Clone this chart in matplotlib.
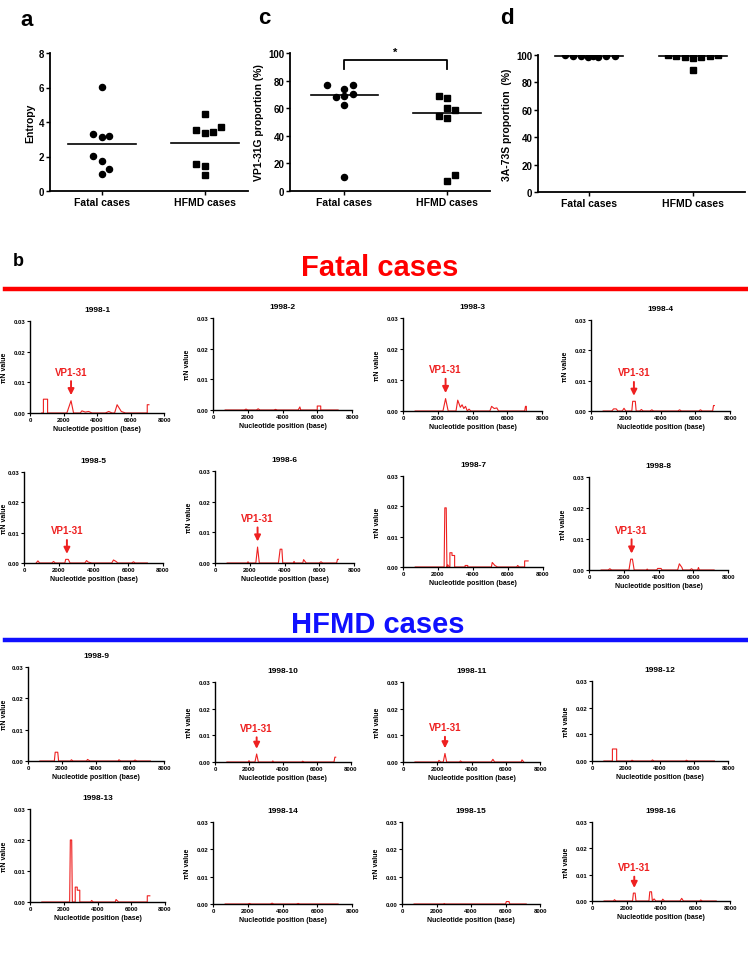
import matplotlib
matplotlib.use('Agg')
import matplotlib.pyplot as plt

plt.rcParams['font.family'] = ['Liberation Sans', 'DejaVu Sans']
plt.rcParams['font.weight'] = 'bold'
plt.rcParams['axes.labelweight'] = 'bold'

# ---- data: panels a, c, d (dot plots) ----
cats = ['Fatal cases', 'HFMD cases']

entropy_fatal = [6.05, 3.3, 3.15, 3.2, 2.05, 1.75, 1.25, 1.0]
entropy_hfmd = [4.45, 3.55, 3.35, 3.4, 3.7, 1.55, 1.45, 0.95]
entropy_lines = [2.7, 2.8]

vp1_fatal = [76.5, 74, 77, 68, 68.5, 70.5, 62, 10.5]
vp1_hfmd = [69.2, 67.7, 60, 58.7, 54.1, 52.7, 11.4, 7.3]
vp1_lines = [69.5, 56.5]

a3_fatal = [99.8, 99.6, 99.3, 98.8, 99.5, 98.3, 99.5, 99.6]
a3_hfmd = [99.8, 99.6, 98.5, 97.8, 98.5, 99.5, 99.7, 89.0]
a3_lines = [99.6, 99.2]

# ---- data: panel b, piN along the genome (position, value) ----
case_names = ['1998-%d' % i for i in range(1, 17)]

trace_01 = [(700, 0), (800, 0), (800, 0.0045), (1050, 0.0045), (1050, 0), (2200, 0), (2450, 0.004),
            (2600, 0), (3000, 0), (3100, 0.0007), (3300, 0.0003), (3500, 0.0005), (3700, 0), (4500, 0),
            (4700, 0.0005), (4900, 0), (5050, 0), (5200, 0.0027), (5450, 0.0005), (5700, 0), (7000, 0),
            (7000, 0.0027), (7100, 0.0027)]
trace_02 = [(700, 0), (1800, 0), (1900, 0.0003), (2000, 0), (2500, 0), (2600, 0.0004), (2700, 0),
            (3500, 0), (3600, 0.0002), (3700, 0), (4900, 0), (5000, 0.001), (5050, 0), (6000, 0),
            (6000, 0.0013), (6200, 0.0013), (6200, 0), (7200, 0)]
trace_03 = [(700, 0), (2300, 0), (2450, 0.004), (2600, 0), (3050, 0), (3150, 0.0035), (3300, 0.0012),
            (3400, 0.002), (3500, 0.0008), (3600, 0.0015), (3700, 0), (3800, 0.0006), (3900, 0),
            (5000, 0), (5100, 0.0015), (5250, 0.0008), (5400, 0.001), (5500, 0), (7000, 0),
            (7050, 0.0015), (7100, 0.0015), (7100, 0)]
trace_04 = [(700, 0), (1200, 0), (1300, 0.0007), (1450, 0.0007), (1550, 0), (1800, 0), (1900, 0.0009),
            (2000, 0), (2350, 0), (2400, 0.0032), (2550, 0.0032), (2600, 0), (2800, 0), (2900, 0.0005),
            (3000, 0), (3400, 0), (3500, 0.0004), (3600, 0), (5000, 0), (5100, 0.0004), (5200, 0),
            (6200, 0), (6300, 0.0004), (6400, 0), (7000, 0), (7050, 0.0018), (7100, 0.0018)]
trace_05 = [(700, 0), (800, 0.0007), (900, 0), (1600, 0), (1700, 0.0005), (1800, 0), (2350, 0),
            (2400, 0.0012), (2550, 0.0012), (2650, 0), (3500, 0), (3600, 0.0008), (3700, 0.0003),
            (3900, 0), (5050, 0), (5150, 0.001), (5300, 0.0005), (5400, 0), (6200, 0), (6300, 0.0004),
            (6400, 0), (7100, 0)]
trace_06 = [(700, 0), (1850, 0), (1900, 0.0004), (1950, 0), (2350, 0), (2450, 0.0052), (2550, 0),
            (3650, 0), (3750, 0.0045), (3850, 0.0045), (3900, 0), (4500, 0), (4550, 0.0005), (4600, 0),
            (5050, 0), (5100, 0.0011), (5250, 0), (6000, 0), (6100, 0.0004), (6200, 0), (7000, 0),
            (7050, 0.0012), (7100, 0.0012)]
trace_07 = [(700, 0), (2350, 0), (2390, 0.0195), (2470, 0.0195), (2510, 0), (2560, 0.0007), (2640, 0),
            (2680, 0), (2680, 0.0047), (2800, 0.0047), (2800, 0.0038), (2950, 0.0038), (2950, 0),
            (3550, 0), (3550, 0.0005), (3700, 0.0005), (3700, 0), (5050, 0), (5100, 0.0015),
            (5250, 0.0005), (5400, 0), (6500, 0), (6550, 0.0005), (6650, 0), (6950, 0), (6950, 0.002),
            (7150, 0.002)]
trace_08 = [(700, 0), (1100, 0), (1200, 0.0004), (1300, 0), (2300, 0), (2400, 0.0035), (2500, 0.0035),
            (2600, 0), (3300, 0), (3350, 0.0003), (3400, 0), (3900, 0), (3950, 0.0005), (4150, 0.0005),
            (4200, 0), (5100, 0), (5200, 0.002), (5350, 0.0008), (5400, 0), (5800, 0), (5900, 0.0004),
            (6000, 0), (6250, 0), (6300, 0.0008), (6350, 0), (7200, 0)]
trace_09 = [(700, 0), (1550, 0), (1600, 0.0028), (1750, 0.0028), (1800, 0), (2500, 0), (2550, 0.0004),
            (2650, 0), (3450, 0), (3500, 0.0005), (3650, 0), (5300, 0), (5350, 0.0004), (5450, 0),
            (6200, 0), (6300, 0.0003), (6400, 0), (7200, 0)]
trace_10 = [(700, 0), (1950, 0), (2000, 0.0005), (2050, 0), (2350, 0), (2450, 0.003), (2550, 0),
            (3350, 0), (3400, 0.0004), (3450, 0), (5100, 0), (5150, 0.0003), (5250, 0), (7000, 0),
            (7050, 0.0018), (7100, 0.0018)]
trace_11 = [(700, 0), (2050, 0), (2100, 0.0006), (2200, 0), (2350, 0), (2450, 0.0032), (2550, 0),
            (3300, 0), (3350, 0.0004), (3450, 0), (5150, 0), (5250, 0.001), (5350, 0), (6900, 0),
            (6950, 0.0008), (7050, 0)]
trace_12 = [(700, 0), (1200, 0), (1200, 0.0045), (1450, 0.0045), (1450, 0), (2300, 0), (2350, 0.0003),
            (2450, 0), (3500, 0), (3550, 0.0004), (3650, 0), (5500, 0), (5550, 0.0003), (5650, 0),
            (7200, 0)]
trace_13 = [(700, 0), (2350, 0), (2390, 0.02), (2470, 0.02), (2510, 0), (2680, 0), (2680, 0.0048),
            (2800, 0.0048), (2800, 0.0038), (2950, 0.0038), (2950, 0), (3600, 0), (3650, 0.0005),
            (3750, 0), (5050, 0), (5100, 0.0008), (5250, 0), (6950, 0), (6950, 0.002), (7100, 0.002)]
trace_14 = [(700, 0), (2000, 0), (2100, 0.0002), (2200, 0), (3300, 0), (3400, 0.0003), (3500, 0),
            (4800, 0), (4900, 0.0002), (5000, 0), (7200, 0)]
trace_15 = [(700, 0), (2400, 0), (2450, 0.0002), (2500, 0), (6000, 0), (6050, 0.0009), (6200, 0.0009),
            (6250, 0), (7200, 0)]
trace_16 = [(700, 0), (1250, 0), (1300, 0.0005), (1400, 0), (2350, 0), (2400, 0.003), (2500, 0.003),
            (2550, 0), (3300, 0), (3350, 0.0035), (3450, 0.0035), (3500, 0), (3600, 0.0008), (3700, 0),
            (4050, 0), (4100, 0.0007), (4200, 0), (5100, 0), (5200, 0.001), (5300, 0), (6250, 0),
            (6300, 0.0004), (6400, 0), (7200, 0)]
traces = [trace_01, trace_02, trace_03, trace_04, trace_05, trace_06, trace_07, trace_08,
          trace_09, trace_10, trace_11, trace_12, trace_13, trace_14, trace_15, trace_16]

# VP1-31 site: (case index, position, peak height)
vp1_marks = [(0, 2450, 0.004), (2, 2450, 0.004), (3, 2470, 0.0032), (4, 2470, 0.0012),
             (5, 2450, 0.0052), (7, 2450, 0.0035), (9, 2450, 0.003), (10, 2450, 0.0032),
             (15, 2450, 0.003)]

# ---- layout ----
W, H = 748, 954
fig = plt.figure(figsize=(W / 100, H / 100), dpi=100)


def px_axes(l, t, r, b):
    return fig.add_axes([l / W, 1 - b / H, (r - l) / W, (b - t) / H])


def prism(ax, lw=1.3):
    for s in ['top', 'right']:
        ax.spines[s].set_visible(False)
    for s in ['left', 'bottom']:
        ax.spines[s].set_linewidth(lw)
    ax.tick_params(direction='out', width=lw * 0.8, length=3, pad=1)


def dot_panel(box, fatal, hfmd, fdx, hdx, lines, ylim, yticks, ylabel, xlim):
    ax = px_axes(*box)
    ax.plot([1 + d for d in fdx], fatal, 'o', color='black', ms=4.4, zorder=3)
    ax.plot([2 + d for d in hdx], hfmd, 's', color='black', ms=4.1, zorder=3)
    ax.plot([0.67, 1.33], [lines[0]] * 2, color='black', lw=1.2)
    ax.plot([1.67, 2.33], [lines[1]] * 2, color='black', lw=1.2)
    ax.set_xlim(*xlim)
    ax.set_ylim(*ylim)
    ax.set_yticks(yticks)
    ax.set_xticks([1, 2])
    ax.set_xticklabels(cats, fontsize=7.5, fontweight='bold')
    ax.tick_params(axis='y', labelsize=7)
    ax.set_ylabel(ylabel, fontsize=7.5, fontweight='bold', labelpad=3)
    ax.spines['left'].set_bounds(ylim[0], ylim[1])
    prism(ax)
    return ax


ax_a = dot_panel((50, 54, 248, 192), entropy_fatal, entropy_hfmd,
                 [0, -0.08, 0, 0.07, -0.08, 0, 0.07, 0], [0, -0.08, 0, 0.08, 0.155, -0.08, 0, 0],
                 entropy_lines, (0, 8), [0, 2, 4, 6, 8], 'Entropy', (0.5, 2.42))
ax_c = dot_panel((290, 54, 490, 192), vp1_fatal, vp1_hfmd,
                 [-0.165, 0, 0.08, -0.08, 0, 0.08, 0, 0], [-0.08, 0, 0, 0.08, -0.08, 0, 0.08, 0],
                 vp1_lines, (0, 100), [0, 20, 40, 60, 80, 100], 'VP1-31G proportion (%)', (0.47, 2.42))
ax_c.plot([1, 1, 2, 2], [88.5, 95, 95, 88.5], color='black', lw=1.3, clip_on=False)
ax_c.text(1.5, 97, '*', ha='center', va='bottom', fontsize=8, fontweight='bold')
ax_d = dot_panel((538, 56, 745, 193), a3_fatal, a3_hfmd,
                 [-0.235, -0.155, -0.08, -0.005, 0.04, 0.087, 0.168, 0.248],
                 [-0.24, -0.16, -0.08, 0, 0.08, 0.16, 0.24, 0],
                 a3_lines, (0, 100), [0, 20, 40, 60, 80, 100], '3A-73S proportion  (%)', (0.51, 2.5))

fig.text(20 / W, 1 - 20 / H, 'a', fontsize=16, fontweight='bold', va='center')
fig.text(258 / W, 1 - 18 / H, 'c', fontsize=16, fontweight='bold', va='center')
fig.text(500 / W, 1 - 18 / H, 'd', fontsize=16, fontweight='bold', va='center')
fig.text(13 / W, 1 - 262 / H, 'b', fontsize=13, fontweight='bold', va='center')

# group headers
fig.text(380 / W, 1 - 268 / H, 'Fatal cases', color='#ff0000', fontsize=21, fontweight='bold',
         ha='center', va='center')
fig.add_artist(plt.Line2D([5 / W, 1], [1 - 290 / H] * 2, color='#ff0000', lw=3.2))
fig.text(378 / W, 1 - 625 / H, 'HFMD cases', color='#1010ff', fontsize=21, fontweight='bold',
         ha='center', va='center')
fig.add_artist(plt.Line2D([5 / W, 1], [1 - 641 / H] * 2, color='#1010ff', lw=3.2))

# small panel boxes in pixels: left, top(0.03), right(8000), bottom(0)
boxes = [(30, 322, 164, 414), (213, 319, 352, 411), (403, 319, 542, 412), (591, 321, 730, 412),
         (24, 473, 163, 564), (215, 472, 354, 564), (403, 477, 543, 568), (589, 478, 728, 571),
         (28, 668, 164, 762), (215, 683, 351, 763), (403, 683, 540, 763), (592, 682, 728, 762),
         (30, 810, 165, 903), (213, 823, 352, 905), (402, 823, 540, 905), (592, 823, 730, 902)]

axes_b = []
for i, (name, tr, box) in enumerate(zip(case_names, traces, boxes)):
    ax = px_axes(*box)
    ax.plot([p for p, v in tr], [v for p, v in tr], color='#ee2020', lw=0.8)
    ax.set_xlim(0, 8000)
    ax.set_ylim(0, 0.03)
    ax.set_xticks([0, 2000, 4000, 6000, 8000])
    ax.set_yticks([0, 0.01, 0.02, 0.03])
    ax.set_yticklabels(['0.00', '0.01', '0.02', '0.03'])
    ax.tick_params(labelsize=4.3, length=2)
    prism(ax, lw=1.0)
    ax.tick_params(length=2, pad=1)
    ax.set_xlabel('Nucleotide position (base)', fontsize=5, fontweight='bold', labelpad=2)
    ax.set_ylabel('\u03c0N value', fontsize=5, fontweight='bold')
    # keep the y label inside the page
    lab_x = max(box[0] - 22, 8)
    ax.yaxis.set_label_coords((lab_x - box[0]) / (box[2] - box[0]), 0.5)
    ax.set_title(name, fontsize=6, fontweight='bold', pad=7)
    axes_b.append(ax)

for idx, pos, peak in vp1_marks:
    ax = axes_b[idx]
    tip = peak + 0.0009
    tail = tip + 0.0064
    ax.annotate('', xy=(pos, tip), xytext=(pos, tail),
                arrowprops=dict(arrowstyle='-|>', color='#ee2020', lw=1.4, mutation_scale=9))
    ax.text(pos, tail + 0.0006, 'VP1-31', color='#ee2020', fontsize=7, fontweight='bold',
            ha='center', va='bottom')

fig.savefig('out.png', dpi=100)
